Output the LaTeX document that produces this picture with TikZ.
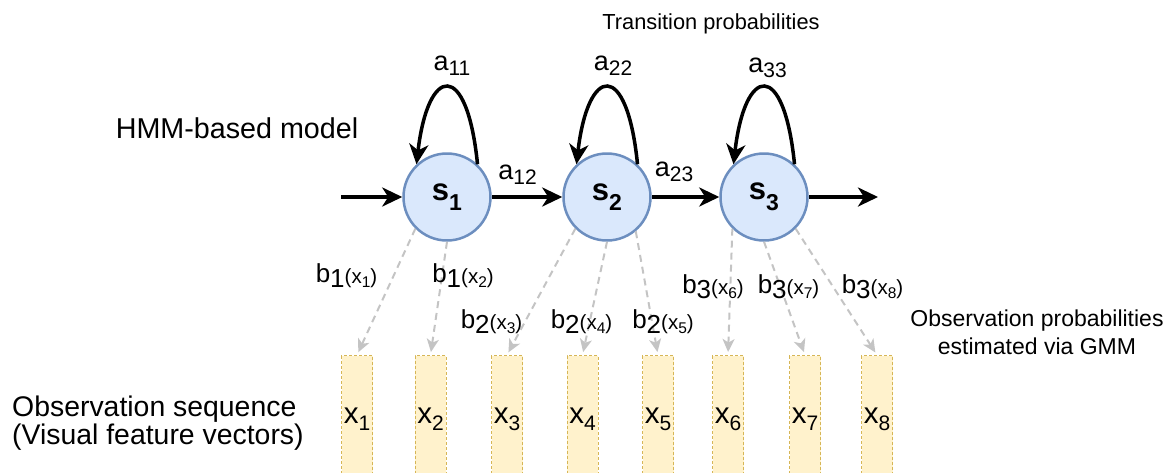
\documentclass[tikz,border=0pt]{standalone}
\usepackage{fontspec}
\setmainfont{Liberation Sans}
\usetikzlibrary{arrows.meta,calc}
\definecolor{cfill}{HTML}{DAE8FC}
\definecolor{cborder}{HTML}{6C8EBF}
\definecolor{rfill}{HTML}{FFF2CC}
\definecolor{rborder}{HTML}{D6B656}
\definecolor{egray}{HTML}{C4C4C4}
\newcommand{\slab}[1]{\fontsize{31}{33}\selectfont\bfseries s\raisebox{-10.5pt}{\fontsize{23}{25}\selectfont\bfseries #1}}
\newcommand{\alab}[1]{\fontsize{27}{30}\selectfont a\raisebox{-5pt}{\fontsize{21}{24}\selectfont #1}}
\newcommand{\blab}[2]{\fontsize{26}{28}\selectfont b\raisebox{-5pt}{#1}\raisebox{-1pt}{\fontsize{20.5}{24}\selectfont (x\raisebox{-4pt}{\fontsize{15.5}{18}\selectfont #2})}}
\newcommand{\xlab}[1]{\fontsize{29.5}{30}\selectfont x\raisebox{-6.7pt}{\fontsize{21}{24}\selectfont #1}}
\begin{document}
\begin{tikzpicture}[x=1pt,y=-1pt,
  state/.style={circle, draw=cborder, fill=cfill, line width=2.5pt, minimum size=87pt, inner sep=0pt},
  obs/.style={rectangle, draw=rborder, fill=rfill, dash pattern=on 3pt off 2pt, line width=1pt, minimum width=31pt, minimum height=128pt, inner sep=0pt, anchor=north},
  trans/.style={line width=3.5pt, -{Stealth[length=20pt,width=19pt,inset=6pt]}},
  emit/.style={draw=egray, line width=2pt, dash pattern=on 7pt off 5pt, -{Stealth[length=13pt,width=12pt,inset=3.5pt]}, shorten >=3pt},
  txt/.style={inner sep=0pt, anchor=base},
]
\useasboundingbox (0,0) rectangle (1168,472);
\clip (0,0) rectangle (1168,472);

% states
\node[state] (s1) at (447,197) {\slab{1}};
\node[state] (s2) at (607,197) {\slab{2}};
\node[state] (s3) at (764,197) {\slab{3}};

% observation boxes
\node[obs] (x1) at (357,355) {\xlab{1}};
\node[obs] (x2) at (430.5,355) {\xlab{2}};
\node[obs] (x3) at (507,355) {\xlab{3}};
\node[obs] (x4) at (582.5,355) {\xlab{4}};
\node[obs] (x5) at (658,355) {\xlab{5}};
\node[obs] (x6) at (728,355) {\xlab{6}};
\node[obs] (x7) at (805,355) {\xlab{7}};
\node[obs] (x8) at (877,355) {\xlab{8}};

% transitions
\coordinate (in) at (341,197);
\coordinate (out) at (878,197);
\draw[trans] (in) -- (s1);
\draw[trans] (s1) -- (s2);
\draw[trans] (s2) -- (s3);
\draw[trans] (s3) -- (out);
\foreach \s in {s1,s2,s3}{
  \draw[trans] (\s.47) .. controls ($(\s)+(20,-138)$) and ($(\s)+(-19,-132)$) .. (\s.133);
}

% emissions
\draw[emit] (s1.-135) -- (x1.north);
\draw[emit] (s1.-90) -- (x2.north);
\draw[emit] (s2.-135) -- (x3.north);
\draw[emit] (s2.-90) -- (x4.north);
\draw[emit] (s2.-50) -- (x5.north);
\draw[emit] (s3.-135) -- (x6.north);
\draw[emit] (s3.-90) -- (x7.north);
\draw[emit] (s3.-45) -- (x8.north);

% transition labels
\node[txt] (a11) at (452,70) {\alab{11}};
\node[txt] (a22) at (613,70.5) {\alab{22}};
\node[txt] (a33) at (767.5,72) {\alab{33}};
\node[txt] (a12) at (517.5,179) {\alab{12}};
\node[txt] (a23) at (674,176) {\alab{23}};

% emission labels
\node[txt] (b11) at (346.5,282.3) {\blab{1}{1}};
\node[txt] (b12) at (463,282.3) {\blab{1}{2}};
\node[txt] (b23) at (491.5,328.3) {\blab{2}{3}};
\node[txt] (b24) at (581.5,328.3) {\blab{2}{4}};
\node[txt] (b25) at (663,328.3) {\blab{2}{5}};
\node[txt] (b36) at (713,293.3) {\blab{3}{6}};
\node[txt] (b37) at (788.5,293.3) {\blab{3}{7}};
\node[txt] (b38) at (872.5,293.3) {\blab{3}{8}};

% texts
\node[txt, font=\fontsize{21.8}{26}\selectfont] (tp) at (711,29.3) {Transition probabilities};
\node[txt, font=\fontsize{28.7}{34}\selectfont] (hmm) at (237,138.3) {HMM-based model};
\node[inner sep=0pt, anchor=west, align=left, font=\fontsize{28.4}{28}\selectfont] (os) at (12,423) {Observation sequence\\(Visual feature vectors)};
\node[inner sep=0pt, align=center, font=\fontsize{23}{28.3}\selectfont] (op) at (1037,332.5) {Observation probabilities\\estimated via GMM};
\end{tikzpicture}
\end{document}
